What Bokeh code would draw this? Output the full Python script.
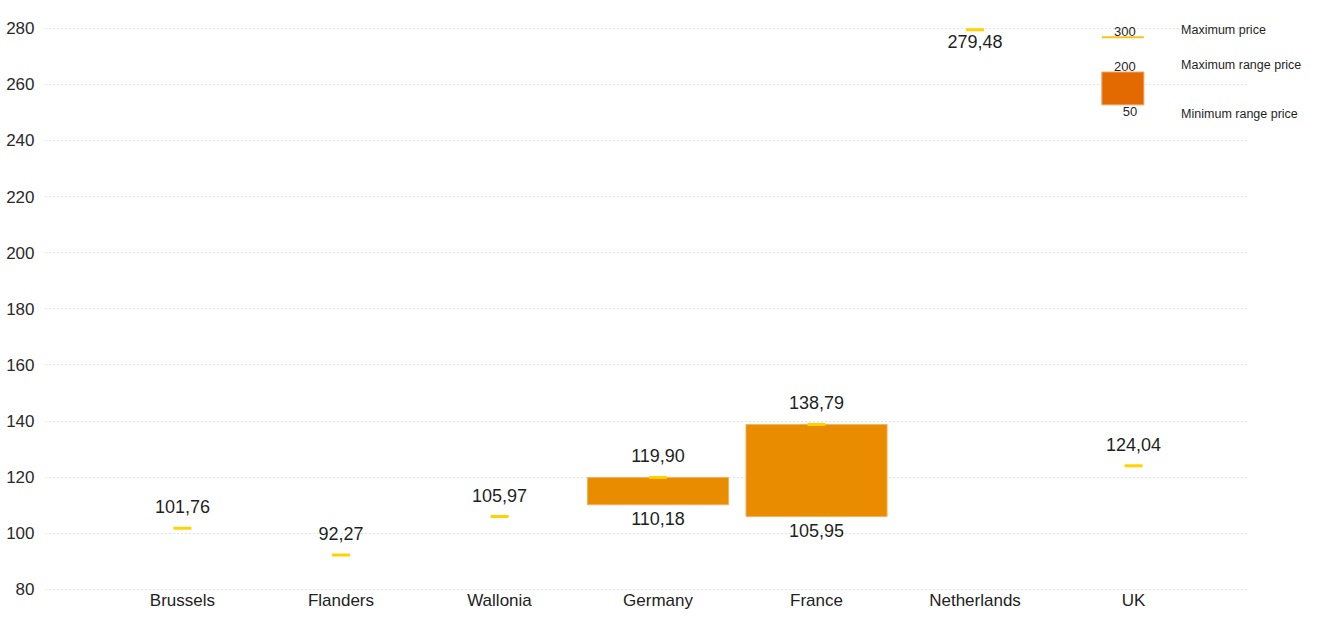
import math
from bokeh.plotting import figure
from bokeh.models import ColumnDataSource, FixedTicker, Range1d
from bokeh.core.properties import value
from bokeh.embed import file_html
from bokeh.resources import INLINE

# ---------------- data ----------------
categories = ["Brussels", "Flanders", "Wallonia", "Germany", "France", "Netherlands", "UK"]
max_price = [101.76, 92.27, 105.97, 119.90, 138.79, 279.48, 124.04]
range_min = [None, None, None, 110.18, 105.95, None, None]
range_max = [None, None, None, 119.90, 138.79, None, None]
y_ticks = [80, 100, 120, 140, 160, 180, 200, 220, 240, 260, 280]

legend_values = [300, 200, 50]
legend_labels = ["Maximum price", "Maximum range price", "Minimum range price"]

FONT = "Liberation Sans"
BAR_COLOR = "#EA8C00"
LEGEND_BOX = "#E26A00"
YELLOW = "#FFD200"
TEXT = "#1f1f1f"


def fmt(v):
    return f"{v:.2f}".replace(".", ",")


xs = list(range(len(categories)))

p = figure(width=1306, height=612,
           x_range=Range1d(-0.864, 7.091), y_range=Range1d(79.6, 289.9),
           output_backend="svg", toolbar_location=None,
           min_border_left=45, min_border_right=0, min_border_top=0, min_border_bottom=18)
p.outline_line_color = None
p.background_fill_color = "white"
p.border_fill_color = "white"

# grid
p.xgrid.visible = False
p.ygrid.ticker = FixedTicker(ticks=y_ticks)
p.ygrid.grid_line_color = "#c4c4c4"
p.ygrid.grid_line_dash = "1 3"
p.ygrid.grid_line_width = 1
p.ygrid.cross_bounds = (-0.864, 6.72)

# axes
p.yaxis.ticker = FixedTicker(ticks=y_ticks)
p.yaxis.axis_line_color = None
p.yaxis.major_tick_line_color = None
p.yaxis.minor_tick_line_color = None
p.yaxis.major_label_standoff = 5
p.yaxis.major_label_text_font = FONT
p.yaxis.major_label_text_font_size = "17px"
p.yaxis.major_label_text_color = "#2a2a2a"

p.xaxis.ticker = FixedTicker(ticks=xs)
p.xaxis.major_label_overrides = {i: c for i, c in enumerate(categories)}
p.xaxis.axis_line_color = None
p.xaxis.major_tick_line_color = None
p.xaxis.minor_tick_line_color = None
p.xaxis.major_tick_out = 0
p.xaxis.major_tick_in = 0
p.xaxis.major_label_standoff = 0
p.xaxis.major_label_text_font = FONT
p.xaxis.major_label_text_font_size = "17px"
p.xaxis.major_label_text_color = "#222222"

# range bars
bx, blo, bhi = [], [], []
for i, (lo, hi) in enumerate(zip(range_min, range_max)):
    if lo is not None and hi is not None:
        bx.append(i); blo.append(lo); bhi.append(hi)
bars = ColumnDataSource(dict(x=bx, bottom=blo, top=bhi,
                             lo_lab=[fmt(v) for v in blo]))
p.vbar(x="x", bottom="bottom", top="top", width=0.89, source=bars,
       fill_color=BAR_COLOR, line_color="#F3B25A", line_width=1)

# max price markers
pts = ColumnDataSource(dict(x=xs, y=max_price, lab=[fmt(v) for v in max_price]))
p.rect(x="x", y="y", width=18, height=3, width_units="screen", height_units="screen",
       source=pts, fill_color=YELLOW, line_color=None)

# labels above / below max price
above = [i for i, v in enumerate(max_price) if v < 250]
below = [i for i, v in enumerate(max_price) if v >= 250]
src_above = ColumnDataSource(dict(x=[xs[i] for i in above], y=[max_price[i] for i in above],
                                  lab=[fmt(max_price[i]) for i in above]))
src_below = ColumnDataSource(dict(x=[xs[i] for i in below], y=[max_price[i] for i in below],
                                  lab=[fmt(max_price[i]) for i in below]))
p.text(x="x", y="y", text="lab", source=src_above, text_align="center",
       text_baseline="bottom", y_offset=-15, text_font=value(FONT),
       text_font_size="18px", text_color=TEXT)
p.text(x="x", y="y", text="lab", source=src_below, text_align="center",
       text_baseline="top", y_offset=5, text_font=value(FONT),
       text_font_size="18px", text_color=TEXT)
p.text(x="x", y="bottom", text="lo_lab", source=bars, text_align="center",
       text_baseline="top", y_offset=7, text_font=value(FONT),
       text_font_size="18px", text_color=TEXT)

# custom legend (top right, above UK)
lg_left, lg_right = 5.80, 6.065
lg_line_y = 276.8
lg_box_top, lg_box_bottom = 264.4, 252.7
p.segment(x0=[lg_left], y0=[lg_line_y], x1=[lg_right], y1=[lg_line_y],
          line_color="#F7C21A", line_width=2)
p.quad(left=[lg_left], right=[lg_right], top=[lg_box_top], bottom=[lg_box_bottom],
       fill_color=LEGEND_BOX, line_color="#F0A060", line_width=1)
p.text(x=[5.945, 5.945, 5.977], y=[lg_line_y, lg_box_top, lg_box_bottom],
       text=[str(v) for v in legend_values],
       text_baseline=["bottom", "bottom", "top"], y_offset=[-1, -1, 2],
       text_align="center", text_font=value(FONT), text_font_size="13px",
       text_color=TEXT)
p.text(x=[6.30] * 3, y=[279.3, 266.85, 249.5], text=legend_labels,
       text_baseline="middle", text_align="left", text_font=value(FONT),
       text_font_size="12.5px", text_color=TEXT)

open("out.html", "w").write(file_html(p, INLINE))
